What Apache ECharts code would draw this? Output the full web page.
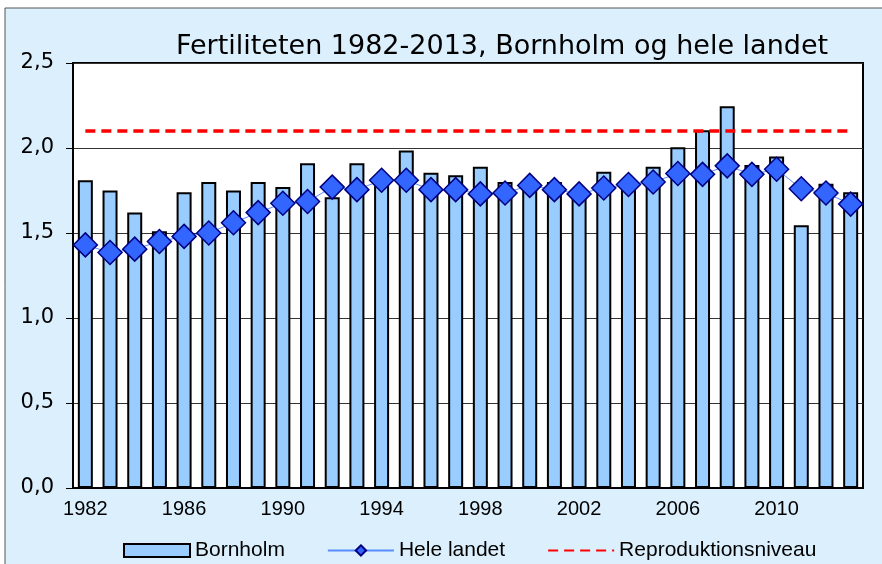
<!DOCTYPE html>
<html>
<head>
<meta charset="utf-8">
<script src="https://cdn.jsdelivr.net/npm/echarts@6/dist/echarts.min.js"></script>
<style>
  html, body { margin: 0; padding: 0; background: #fff; }
  #chart { width: 882px; height: 564px; }
</style>
</head>
<body>
<div id="chart"></div>
<script>
// years on the x axis
const years = []
for (let y = 1982; y <= 2013; y++) years.push(String(y))

// Bornholm fertility (bars)
const bornholm = [1.81, 1.75, 1.62, 1.51, 1.74, 1.80, 1.75, 1.80, 1.77, 1.91,
  1.71, 1.91, 1.79, 1.985, 1.855, 1.84, 1.89, 1.80, 1.77, 1.80,
  1.71, 1.86, 1.77, 1.89, 2.005, 2.105, 2.245, 1.90, 1.95, 1.545,
  1.79, 1.74]

// whole country (line with diamonds)
const heleLandet = [1.43, 1.385, 1.405, 1.45, 1.48, 1.50, 1.56, 1.62, 1.675, 1.685,
  1.77, 1.755, 1.81, 1.81, 1.755, 1.755, 1.73, 1.735, 1.78, 1.755,
  1.73, 1.765, 1.785, 1.80, 1.85, 1.845, 1.895, 1.845, 1.875, 1.76,
  1.735, 1.67]

// replacement level
const reproduktion = years.map(() => 2.1)

const yTicks = [0, 0.5, 1.0, 1.5, 2.0, 2.5]

const chart = echarts.init(document.getElementById('chart'))
chart.setOption({
  animation: false,
  backgroundColor: '#ffffff',
  graphic: [{
    type: 'rect',
    z: -10,
    shape: { x: 5, y: 8, width: 900, height: 600 },
    style: { fill: '#dbeffd', stroke: '#555', lineWidth: 1 }
  }],
  title: {
    text: 'Fertiliteten 1982-2013, Bornholm og hele landet',
    left: 497,
    textAlign: 'center',
    top: 28,
    textStyle: { fontFamily: 'DejaVu Sans', fontWeight: 'normal', fontSize: 27, color: '#000' }
  },
  legend: {
    left: 118,
    top: 535,
    itemWidth: 66,
    itemHeight: 13,
    itemGap: 42,
    textStyle: { fontFamily: 'Liberation Sans', fontSize: 21, color: '#000' },
    data: [
      { name: 'Bornholm', icon: 'rect' },
      'Hele landet',
      { name: 'Reproduktionsniveau', itemStyle: { opacity: 0 } }
    ]
  },
  grid: {
    left: 73, right: 19, top: 63, bottom: 76,
    show: true, backgroundColor: '#fff', borderColor: '#000', borderWidth: 2
  },
  xAxis: {
    type: 'category',
    data: years,
    boundaryGap: true,
    axisLine: { lineStyle: { color: '#000', width: 2 } },
    axisTick: { interval: 0, length: 5, lineStyle: { color: '#000' } },
    axisLabel: {
      interval: 3, margin: 11, color: '#000',
      fontFamily: 'Liberation Sans', fontSize: 20
    }
  },
  yAxis: {
    type: 'value',
    min: 0, max: 2.5, interval: 0.5,
    axisLine: { show: true, lineStyle: { color: '#000', width: 2 } },
    axisTick: { show: true, length: 7, lineStyle: { color: '#000' } },
    splitLine: { lineStyle: { color: '#333', width: 1 } },
    axisLabel: {
      margin: 19, color: '#000', fontFamily: 'DejaVu Sans', fontSize: 21,
      formatter: v => yTicks.includes(v) ? v.toFixed(1).replace('.', ',') : ''
    }
  },
  series: [
    {
      name: 'Bornholm',
      type: 'bar',
      data: bornholm,
      barWidth: 15,
      itemStyle: { color: '#99ccff', borderColor: '#000', borderWidth: 2 }
    },
    {
      name: 'Hele landet',
      type: 'line',
      data: heleLandet,
      symbol: 'diamond',
      symbolSize: 24,
      showAllSymbol: true,
      z: 5,
      lineStyle: { color: '#5a8cff', width: 1 },
      itemStyle: { color: '#3366ff', borderColor: '#000080', borderWidth: 1.5 }
    },
    {
      name: 'Reproduktionsniveau',
      type: 'line',
      data: reproduktion,
      symbol: 'none',
      z: 4,
      lineStyle: { color: '#ff0000', width: 3.5, type: [10, 6] },
      itemStyle: { color: '#ff0000' }
    }
  ]
})
</script>
</body>
</html>
